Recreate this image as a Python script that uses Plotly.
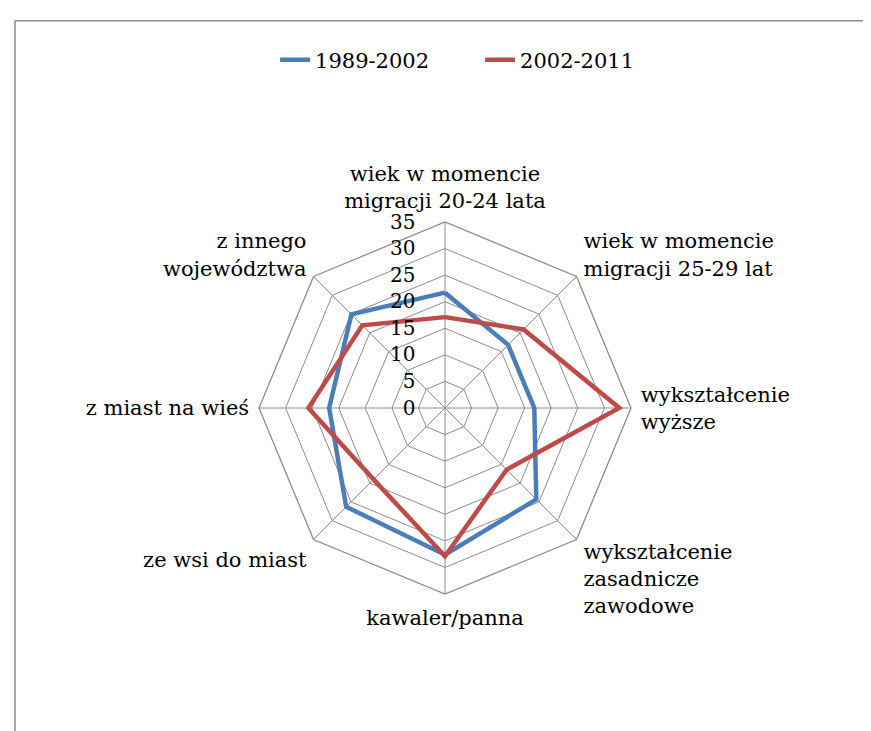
import plotly.graph_objects as go

categories = [
    "wiek w momencie<br>migracji 20-24 lata",
    "wiek w momencie<br>migracji 25-29 lat",
    "wykształcenie<br>wyższe",
    "wykształcenie<br>zasadnicze<br>zawodowe",
    "kawaler/panna",
    "ze wsi do miast",
    "z miast na wieś",
    "z innego<br>województwa",
]
series_1989_2002 = [21.7, 16.8, 16.8, 24.3, 27.6, 26.3, 21.8, 24.9]
series_2002_2011 = [17.1, 20.9, 32.8, 16.4, 27.9, 19.0, 25.7, 22.0]
tick_values = [0, 5, 10, 15, 20, 25, 30, 35]

FONT = "DejaVu Serif"
GRID = "#8c8c8c"

fig = go.Figure()
for name, vals, color in [
    ("1989-2002", series_1989_2002, "#4A7EBB"),
    ("2002-2011", series_2002_2011, "#BE4B48"),
]:
    fig.add_trace(go.Scatterpolar(
        r=vals + vals[:1],
        theta=categories + categories[:1],
        mode="lines",
        name=name,
        line=dict(color=color, width=4.5),
    ))

W, H = 871, 731
cx, cy, R = 437, 400, 186
fig.update_layout(
    width=W, height=H,
    margin=dict(l=0, r=0, t=0, b=0),
    paper_bgcolor="white",
    plot_bgcolor="white",
    font=dict(family=FONT, size=21, color="black"),
    showlegend=True,
    legend=dict(
        orientation="h",
        x=0.542, xanchor="center",
        y=1 - 52 / H, yanchor="middle",
        font=dict(family=FONT, size=21, color="black"),
        itemwidth=30,
        entrywidth=160,
        tracegroupgap=0,
    ),
    polar=dict(
        domain=dict(
            x=[(cx - R) / W, (cx + R) / W],
            y=[(H - cy - R) / H, (H - cy + R) / H],
        ),
        bgcolor="white",
        gridshape="linear",
        radialaxis=dict(
            range=[0, 35],
            tickvals=tick_values,
            ticktext=[str(v) for v in tick_values],
            angle=90,
            tickangle=90,
            side="counterclockwise",
            showticklabels=True,
            showline=False,
            ticks="outside",
            ticklen=22,
            tickcolor="rgba(0,0,0,0)",
            gridcolor=GRID,
            gridwidth=1.3,
            tickfont=dict(family=FONT, size=20, color="black"),
        ),
        angularaxis=dict(
            rotation=90,
            direction="clockwise",
            showline=True,
            linecolor=GRID,
            linewidth=1.3,
            gridcolor=GRID,
            gridwidth=1.3,
            ticks="outside",
            ticklen=5,
            tickcolor="rgba(0,0,0,0)",
            tickfont=dict(family=FONT, size=21, color="black"),
        ),
    ),
    shapes=[
        dict(type="line", xref="paper", yref="paper",
             x0=7 / W, x1=1.01, y0=1 - 12.7 / H, y1=1 - 12.7 / H,
             line=dict(color="#8c8c8c", width=1.5)),
        dict(type="line", xref="paper", yref="paper",
             x0=7 / W, x1=7 / W, y0=1 - 12.7 / H, y1=-0.01,
             line=dict(color="#8c8c8c", width=1.5)),
    ],
)

fig.write_html("out.html")
